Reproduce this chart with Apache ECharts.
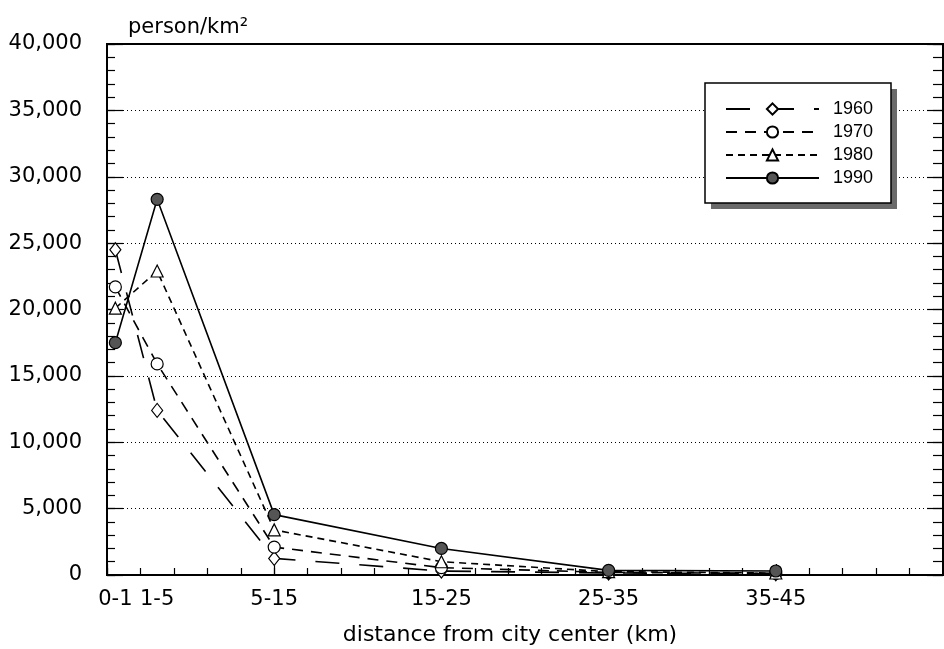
<!DOCTYPE html>
<html>
<head>
<meta charset="utf-8">
<script src="https://cdn.jsdelivr.net/npm/echarts@6/dist/echarts.min.js"></script>
<style>
html,body{margin:0;padding:0;background:#fff;}
#chart{width:944px;height:649px;}
</style>
</head>
<body>
<div id="chart"></div>
<script>
// Distance bands and their midpoints (km)
const categories = ['0-1', '1-5', '5-15', '15-25', '25-35', '35-45'];
const xMid = [0.5, 3, 10, 20, 30, 40];
// Population density (person/km2)
const v1960 = [24500, 12400, 1250, 300, 150, 100];
const v1970 = [21700, 15900, 2100, 550, 200, 120];
const v1980 = [20100, 22900, 3400, 1000, 250, 150];
const v1990 = [17500, 28300, 4550, 2000, 350, 300];
const years = ['1960', '1970', '1980', '1990'];
const yTicks = [0, 5000, 10000, 15000, 20000, 25000, 30000, 35000, 40000];

const pairs = vals => vals.map((v, i) => [xMid[i], v]);
const FONT = "'DejaVu Sans', sans-serif";

const chart = echarts.init(document.getElementById('chart'), null, {renderer: 'canvas'});

const baseSeries = (name, vals, symbol, size, dash, fill) => ({
  name: name,
  type: 'line',
  data: pairs(vals),
  xAxisIndex: 0,
  yAxisIndex: 0,
  symbol: symbol,
  symbolSize: size,
  showAllSymbol: true,
  lineStyle: {color: '#000', width: 1.6, type: dash},
  itemStyle: {color: fill, borderColor: '#000', borderWidth: 1.2},
  emphasis: {disabled: true},
  animation: false,
  z: 3
});

const tickOnlyAxis = (pos, min, max, interval, len) => ({
  type: 'value', min: min, max: max, interval: interval, position: pos,
  axisLine: {show: false},
  axisTick: {show: true, inside: true, length: len, lineStyle: {color: '#000', width: 1.2}},
  axisLabel: {show: false},
  splitLine: {show: false}
});

const LX = 705, LY = 83, LW = 186, LH = 120;

const option = {
  animation: false,
  backgroundColor: '#fff',
  grid: {
    left: 107, right: 1, top: 44, bottom: 74,
    containLabel: false,
    outerBoundsMode: 'none',
    show: true, borderColor: '#000', borderWidth: 2, backgroundColor: 'transparent'
  },
  graphic: [
    {type: 'rect', z: 20, shape: {x: LX + 6, y: LY + 6, width: LW, height: LH}, style: {fill: '#6a6a6a'}},
    {type: 'rect', z: 21, shape: {x: LX, y: LY, width: LW, height: LH}, style: {fill: '#fff', stroke: '#000', lineWidth: 1.5}}
  ],
  legend: {
    show: true,
    z: 30,
    orient: 'vertical',
    left: LX, top: LY,
    padding: [16, 20, 15, 20],
    itemWidth: 93, itemHeight: 14, itemGap: 3,
    backgroundColor: 'transparent',
    borderWidth: 0,
    textStyle: {fontFamily: "'Liberation Sans', Arial, sans-serif", fontSize: 18, lineHeight: 20, color: '#000', padding: [0, 0, 0, 9]},
    data: years,
    selectedMode: false
  },
  xAxis: [
    {
      type: 'value', min: 0, max: 50, interval: 10, position: 'bottom',
      axisLine: {show: true, lineStyle: {color: '#000', width: 2}},
      axisTick: {show: false},
      axisLabel: {show: false},
      splitLine: {show: false},
      name: 'distance from city center (km)',
      nameLocation: 'middle', nameGap: 49,
      nameTextStyle: {fontFamily: FONT, fontSize: 22, color: '#000', padding: [0, 30, 0, 0]}
    },
    {
      type: 'value', min: 0, max: 50, interval: 0.5, position: 'bottom',
      axisLine: {show: false}, axisTick: {show: false}, splitLine: {show: false},
      axisLabel: {
        show: true, margin: 14, fontFamily: FONT, fontSize: 21, color: '#000',
        showMinLabel: true, showMaxLabel: true,
        formatter: v => {
          const i = xMid.findIndex(m => Math.abs(m - v) < 1e-6);
          return i >= 0 ? categories[i] : '';
        }
      }
    },
    tickOnlyAxis('bottom', 0, 50, 10, 11),
    tickOnlyAxis('bottom', 0, 50, 2, 7)
  ],
  yAxis: [
    {
      type: 'value', min: 0, max: 40000, interval: 5000, position: 'left',
      axisLine: {show: true, lineStyle: {color: '#000', width: 2}},
      axisTick: {show: false},
      splitLine: {show: true, lineStyle: {color: '#000', width: 1, type: [1, 3]}},
      axisLabel: {
        margin: 25, fontFamily: FONT, fontSize: 21, color: '#000',
        formatter: v => yTicks.indexOf(v) >= 0 ? v.toLocaleString('en-US') : ''
      },
      name: 'person/km²',
      nameLocation: 'end', nameGap: 6,
      nameTextStyle: {fontFamily: FONT, fontSize: 21, color: '#000', align: 'left', padding: [0, 0, 0, 21]}
    },
    {
      type: 'value', min: 0, max: 40000, interval: 5000, position: 'right',
      axisLine: {show: true, lineStyle: {color: '#000', width: 2}},
      axisTick: {show: false},
      splitLine: {show: false},
      axisLabel: {show: false}
    },
    tickOnlyAxis('left', 0, 40000, 5000, 16),
    tickOnlyAxis('left', 0, 40000, 1000, 8),
    tickOnlyAxis('right', 0, 40000, 5000, 16),
    tickOnlyAxis('right', 0, 40000, 1000, 10)
  ],
  series: [
    baseSeries('1960', v1960, 'diamond', [11, 14], [24, 20], '#fff'),
    baseSeries('1970', v1970, 'circle', 12, [11, 8], '#fff'),
    baseSeries('1980', v1980, 'triangle', 12, [7, 5], '#fff'),
    baseSeries('1990', v1990, 'circle', 12, 'solid', '#555')
  ]
};

chart.setOption(option);
</script>
</body>
</html>
